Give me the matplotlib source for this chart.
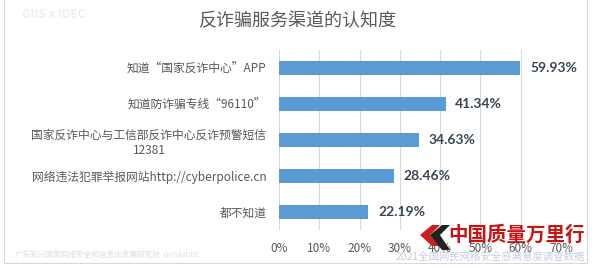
import matplotlib
matplotlib.use("Agg")
import matplotlib.pyplot as plt
from matplotlib.patches import Polygon, Rectangle

plt.rcParams['font.family'] = ['Noto Sans CJK SC', 'DejaVu Sans']

title = "反诈骗服务渠道的认知度"
categories = [
    "知道“国家反诈中心”APP",
    "知道防诈骗专线“96110”",
    "国家反诈中心与工信部反诈中心反诈预警短信\n12381",
    "网络违法犯罪举报网站http://cyberpolice.cn",
    "都不知道",
]
values = [59.93, 41.34, 34.63, 28.46, 22.19]
xticks = [0, 10, 20, 30, 40, 50, 60, 70]
xtick_labels = ["0%", "10%", "20%", "30%", "40%", "50%", "60%", "70%"]

W, H = 597, 267
fig = plt.figure(figsize=(W / 100, H / 100), dpi=100)
fig.patch.set_facecolor("white")

# chart frame
fig.patches.append(Rectangle((4 / W, 1 - 263 / H), (587 - 4) / W, 263 / H + 0.01,
                             transform=fig.transFigure, fill=False,
                             edgecolor="#d9d9d9", linewidth=0.8))

ax = fig.add_axes([279 / W, 1 - 230 / H, (561 - 279) / W, 180 / H])
y = list(range(len(categories)))
ax.barh(y, values, height=0.37, color="#5B9BD5", zorder=3)
ax.set_ylim(len(categories) - 0.5, -0.5)
ax.set_xlim(0, 70)
ax.set_xticks(xticks)
ax.set_xticklabels(xtick_labels, fontsize=8.5, color="#595959")
ax.set_yticks(y)
ax.set_yticklabels(categories, fontsize=8.5, color="#595959", multialignment="center")
ax.tick_params(axis="both", length=0)
ax.tick_params(axis="y", pad=9)
ax.tick_params(axis="x", pad=9)
ax.grid(axis="x", color="#d9d9d9", linewidth=0.8, zorder=0)
for s in ax.spines.values():
    s.set_visible(False)
ax.set_facecolor("none")

for yi, v in zip(y, values):
    ax.annotate(f"{v:.2f}%", (v, yi), xytext=(7, 0), textcoords="offset points",
                va="center", ha="left", fontsize=10, fontweight="bold", color="#3a4655",
                family=["Lato", "DejaVu Sans"])

fig.text(298 / W, 1 - 21 / H, title, ha="center", va="center", fontsize=13, color="#595959")

# watermarks
fig.text(22 / W, 1 - 14 / H, "GIIS x IDEC", ha="left", va="center", fontsize=8.5,
         fontweight="bold", color="#eeeeee")
fig.text(15 / W, 1 - 256 / H, "广东新兴国家网络安全和信息化发展研究院  GIIS&IDEC", ha="left",
         va="center", fontsize=5.5, color="#dedede")
fig.text(585 / W, 1 - 257 / H, "2021全国网民网络安全感满意度调查数据", ha="right",
         va="center", fontsize=7.5, color="#c3d0e0")

# logo overlay
fig.patches.append(Polygon([(432 / W, 1 - 225 / H), (420 / W, 1 - 235 / H), (432 / W, 1 - 246 / H),
                            (440 / W, 1 - 246 / H), (430 / W, 1 - 235 / H), (440 / W, 1 - 225 / H)],
                           closed=True, transform=fig.transFigure, facecolor="#cc1f1f", edgecolor="none"))
fig.patches.append(Polygon([(442 / W, 1 - 225 / H), (430 / W, 1 - 235 / H), (442 / W, 1 - 250 / H),
                            (450 / W, 1 - 250 / H), (440 / W, 1 - 235 / H), (450 / W, 1 - 225 / H)],
                           closed=True, transform=fig.transFigure, facecolor="#222222", edgecolor="none"))
fig.text(516 / W, 1 - 235 / H, "中国质量万里行", ha="center", va="center", fontsize=14,
         fontweight="bold", color="#cc1111")

fig.savefig("out.png", dpi=100, facecolor="white")
